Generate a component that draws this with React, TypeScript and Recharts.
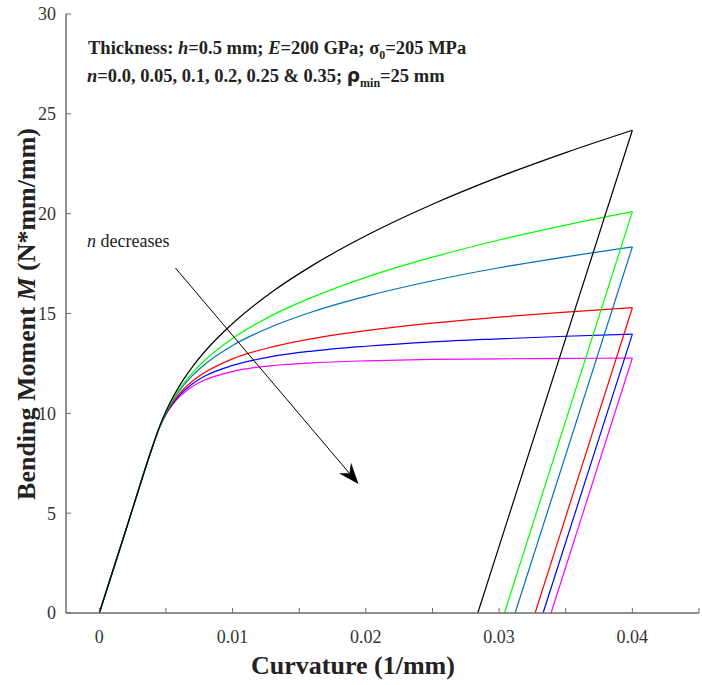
import React from 'react';
import { LineChart, Line, XAxis, YAxis, ReferenceLine } from 'recharts';

// curvature points of the loading branch (1/mm)
const curvature = [0, 0.002, 0.0041, 0.0045, 0.005, 0.006, 0.007, 0.008, 0.01, 0.013, 0.016, 0.02, 0.025, 0.03, 0.035, 0.04];

// bending moment (N*mm/mm) for each hardening exponent n
const momentN000 = [0, 4.17, 8.54, 9.27, 9.94, 10.82, 11.35, 11.69, 12.1, 12.39, 12.53, 12.63, 12.7, 12.73, 12.75, 12.77];
const momentN005 = [0, 4.17, 8.54, 9.27, 9.96, 10.89, 11.48, 11.89, 12.4, 12.85, 13.12, 13.36, 13.58, 13.73, 13.86, 13.97];
const momentN010 = [0, 4.17, 8.54, 9.28, 9.99, 10.97, 11.62, 12.08, 12.73, 13.33, 13.74, 14.14, 14.52, 14.82, 15.07, 15.29];
const momentN020 = [0, 4.17, 8.54, 9.29, 10.03, 11.12, 11.9, 12.5, 13.4, 14.36, 15.09, 15.86, 16.64, 17.29, 17.84, 18.34];
const momentN025 = [0, 4.17, 8.54, 9.29, 10.05, 11.2, 12.04, 12.71, 13.75, 14.92, 15.82, 16.81, 17.82, 18.68, 19.43, 20.1];
const momentN035 = [0, 4.17, 8.54, 9.3, 10.1, 11.36, 12.34, 13.16, 14.5, 16.1, 17.41, 18.89, 20.47, 21.84, 23.06, 24.18];

// curvature where the elastic unloading line reaches M = 0
const unloadEnd = { n000: 0.0339, n005: 0.0333, n010: 0.0327, n020: 0.0312, n025: 0.0304, n035: 0.0284 };

const xTicks = [0, 0.005, 0.01, 0.015, 0.02, 0.025, 0.03, 0.035, 0.04, 0.045];
const yTicks = [0, 5, 10, 15, 20, 25, 30];

// arrow "n decreases"
const arrowFrom = { x: 0.00571, y: 17.28 };
const arrowTo = { x: 0.01945, y: 6.46 };

const series = [
  { key: 'n000', values: momentN000, color: '#FF00FF' },
  { key: 'n005', values: momentN005, color: '#0000FF' },
  { key: 'n010', values: momentN010, color: '#FF0000' },
  { key: 'n020', values: momentN020, color: '#0072BD' },
  { key: 'n025', values: momentN025, color: '#00FF00' },
  { key: 'n035', values: momentN035, color: '#000000' },
];

const SERIF = 'Liberation Serif, Times New Roman, serif';
const FRAME = '#6b6b6b';

const xLabel = (v: number) => {
  const c = v * 100;
  if (Math.abs(c - Math.round(c)) > 1e-6 || v > 0.041) return '';
  return String(Number(v.toFixed(2)));
};

const Arrow = (props: any) => {
  const { x1, y1, x2, y2 } = props;
  const dx = x2 - x1;
  const dy = y2 - y1;
  const len = Math.sqrt(dx * dx + dy * dy);
  const ux = dx / len;
  const uy = dy / len;
  const px = -uy;
  const py = ux;
  const bx = x2 - ux * 21;
  const by = y2 - uy * 21;
  const nx = x2 - ux * 14;
  const ny = y2 - uy * 14;
  const pts = [
    [x2, y2],
    [bx + px * 8, by + py * 8],
    [nx, ny],
    [bx - px * 8, by - py * 8],
  ]
    .map((p) => p.join(','))
    .join(' ');
  return (
    <g>
      <line x1={x1} y1={y1} x2={nx} y2={ny} stroke="#000" strokeWidth={1} />
      <polygon points={pts} fill="#000" />
    </g>
  );
};

export default function App() {
  const tickStyle = { fontFamily: SERIF, fontSize: 18, fill: '#333' };

  return (
    <div
      style={{
        position: 'absolute',
        left: 0,
        top: 0,
        width: 702,
        height: 685,
        background: '#fff',
        fontFamily: SERIF,
      }}
    >
      <LineChart
        width={702}
        height={685}
        margin={{ top: 14, right: 3, bottom: 32, left: 0 }}
        style={{ fontFamily: SERIF }}
      >
        <XAxis
          xAxisId="b"
          dataKey="x"
          type="number"
          domain={[-0.0025, 0.045]}
          ticks={xTicks}
          interval={0}
          allowDataOverflow
          height={40}
          tickFormatter={xLabel}
          tick={tickStyle}
          tickSize={-5}
          tickMargin={22}
          axisLine={{ stroke: FRAME, strokeWidth: 1.5 }}
          tickLine={{ stroke: FRAME }}
        />
        <XAxis
          xAxisId="t"
          orientation="top"
          dataKey="x"
          type="number"
          domain={[-0.0025, 0.045]}
          ticks={xTicks}
          interval={0}
          allowDataOverflow
          height={0}
          tickFormatter={() => ''}
          tickSize={-5}
          axisLine={{ stroke: FRAME, strokeWidth: 1.5 }}
          tickLine={{ stroke: FRAME }}
        />
        <YAxis
          yAxisId="l"
          type="number"
          domain={[0, 30]}
          ticks={yTicks}
          interval={0}
          width={66}
          tick={tickStyle}
          tickSize={-5}
          tickMargin={15}
          axisLine={{ stroke: FRAME, strokeWidth: 1.5 }}
          tickLine={{ stroke: FRAME }}
        />
        <YAxis
          yAxisId="r"
          orientation="right"
          type="number"
          domain={[0, 30]}
          ticks={yTicks}
          interval={0}
          width={0}
          tickFormatter={() => ''}
          tickSize={-5}
          axisLine={{ stroke: FRAME, strokeWidth: 1.5 }}
          tickLine={{ stroke: FRAME }}
        />
        {series.map((s) => (
          <Line
            key={s.key}
            xAxisId="b"
            yAxisId="l"
            data={curvature.map((x, i) => ({ x, y: s.values[i] }))}
            dataKey="y"
            type="monotone"
            stroke={s.color}
            strokeWidth={1.2}
            dot={false}
            activeDot={false}
            isAnimationActive={false}
          />
        ))}
        {series.map((s) => (
          <Line
            key={s.key + '-unload'}
            xAxisId="b"
            yAxisId="l"
            data={[
              { x: curvature[curvature.length - 1], y: s.values[s.values.length - 1] },
              { x: unloadEnd[s.key as keyof typeof unloadEnd], y: 0 },
            ]}
            dataKey="y"
            type="linear"
            stroke={s.color}
            strokeWidth={1.2}
            dot={false}
            activeDot={false}
            isAnimationActive={false}
          />
        ))}
        <ReferenceLine
          xAxisId="b"
          yAxisId="l"
          segment={[arrowFrom, arrowTo]}
          shape={Arrow}
        />
      </LineChart>

      <div
        style={{
          position: 'absolute',
          left: 88,
          top: 39,
          fontWeight: 'bold',
          fontSize: 18.5,
          lineHeight: '18.5px',
          color: '#222',
          whiteSpace: 'nowrap',
        }}
      >
        Thickness: <i>h</i>=0.5 mm; <i>E</i>=200 GPa; σ<sub style={{ fontSize: 12 }}>0</sub>=205 MPa
      </div>
      <div
        style={{
          position: 'absolute',
          left: 87,
          top: 67,
          fontWeight: 'bold',
          fontSize: 18.5,
          lineHeight: '18.5px',
          color: '#222',
          whiteSpace: 'nowrap',
        }}
      >
        <i>n</i>=0.0, 0.05, 0.1, 0.2, 0.25 &amp; 0.35;{' '}
        <span style={{ fontFamily: 'DejaVu Sans, sans-serif' }}>ρ</span>
        <sub style={{ fontSize: 12 }}>min</sub>=25 mm
      </div>
      <div
        style={{
          position: 'absolute',
          left: 87,
          top: 232,
          fontSize: 18,
          lineHeight: '18px',
          color: '#222',
          whiteSpace: 'nowrap',
        }}
      >
        <i>n</i> decreases
      </div>
      <div
        style={{
          position: 'absolute',
          left: 353,
          top: 653,
          transform: 'translateX(-50%)',
          fontWeight: 'bold',
          fontSize: 26,
          lineHeight: '26px',
          color: '#222',
          whiteSpace: 'nowrap',
        }}
      >
        Curvature (1/mm)
      </div>
      <div
        style={{
          position: 'absolute',
          left: 27,
          top: 314,
          transform: 'translate(-50%, -50%) rotate(-90deg)',
          fontWeight: 'bold',
          fontSize: 26,
          lineHeight: '26px',
          color: '#222',
          whiteSpace: 'nowrap',
        }}
      >
        Bending Moment <i>M</i> (N*mm/mm)
      </div>
    </div>
  );
}
